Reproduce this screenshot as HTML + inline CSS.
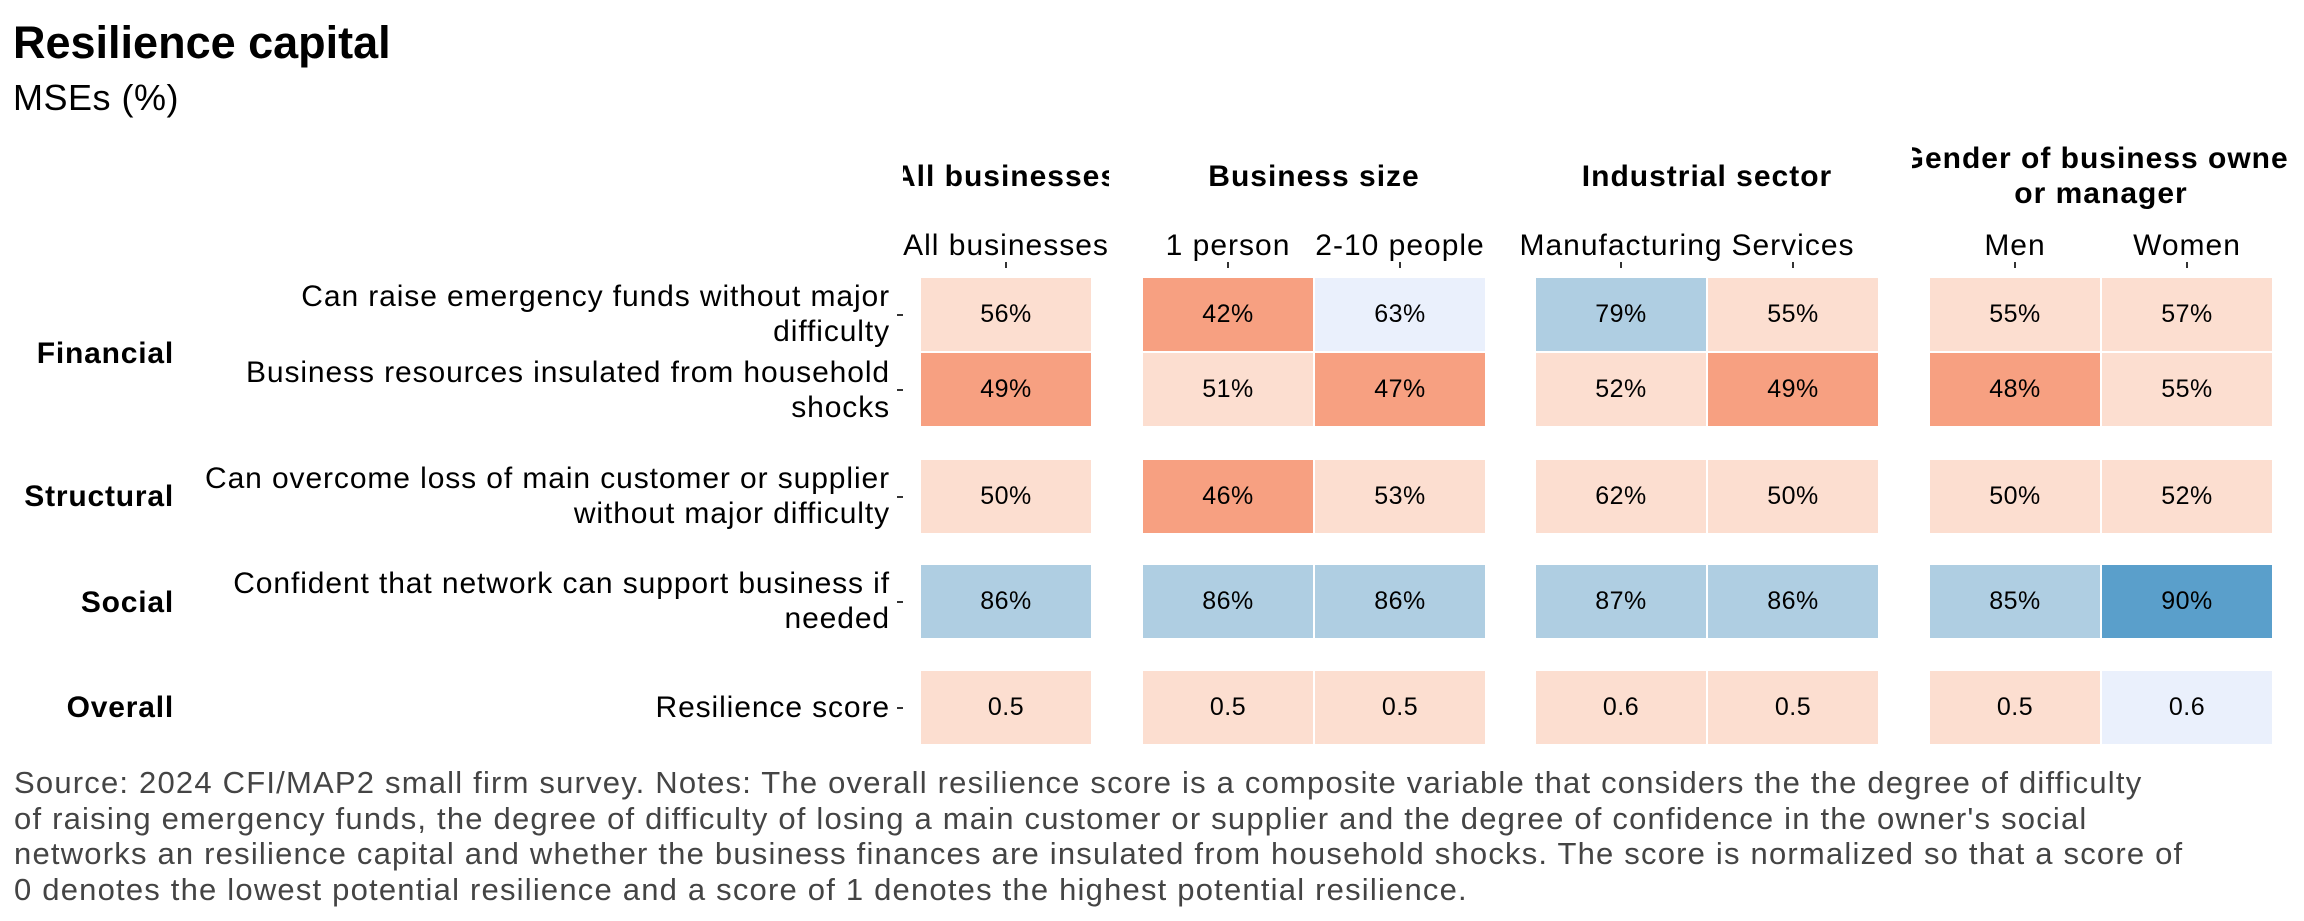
<!DOCTYPE html>
<html><head><meta charset="utf-8"><style>
body{margin:0;width:2304px;height:921px;background:#fff;position:relative;overflow:hidden;font-family:"Liberation Sans",Arial,sans-serif;color:#000}
.a{position:absolute;white-space:nowrap}
.c{position:absolute;width:172px;height:75px;box-sizing:border-box;border:1px solid #fff;display:flex;align-items:center;justify-content:center;font-size:25px;letter-spacing:0.5px}
.lo{background:#FCDED0}.hi{background:#F7A081}.lb{background:#EAF0FC}.bl{background:#AFCEE2}.db{background:#5A9FCB}
.st{position:absolute;height:80px;overflow:hidden;font-weight:bold;font-size:30px;letter-spacing:1px;display:flex;align-items:center;justify-content:center;text-align:center;line-height:35px;top:136px}
.st span{white-space:nowrap}
.cl{position:absolute;font-size:30px;letter-spacing:1px;top:229px;width:172px;text-align:center;white-space:nowrap;display:flex;justify-content:center}
.ct{position:absolute;width:2px;height:6px;top:262px;background:#333}
.rl{position:absolute;right:1414px;font-size:30px;letter-spacing:0.9px;text-align:right;line-height:35px;white-space:nowrap}
.rt{position:absolute;left:897px;width:6px;height:2px;background:#333}
.gl{position:absolute;right:2130px;font-size:30px;letter-spacing:0.8px;font-weight:bold;white-space:nowrap}
.cap{position:absolute;left:14px;top:765px;font-size:31px;letter-spacing:1.2px;line-height:35.5px;color:#444;white-space:nowrap}
</style></head><body>
<div class="a" style="left:13px;top:17px;font-size:45px;font-weight:bold">Resilience capital</div>
<div class="a" style="left:13px;top:77px;font-size:36px;letter-spacing:0.5px">MSEs (%)</div>

<div class="st" style="left:903px;width:206px"><span>All businesses</span></div>
<div class="st" style="left:1125px;width:378px"><span>Business size</span></div>
<div class="st" style="left:1518px;width:378px"><span>Industrial sector</span></div>
<div class="st" style="left:1912px;width:378px"><span>Gender of business owner<br>or manager</span></div>

<div class="cl" style="left:920px"><span>All businesses</span></div>
<div class="cl" style="left:1142px"><span>1 person</span></div>
<div class="cl" style="left:1314px"><span>2-10 people</span></div>
<div class="cl" style="left:1535px"><span>Manufacturing</span></div>
<div class="cl" style="left:1707px"><span>Services</span></div>
<div class="cl" style="left:1929px"><span>Men</span></div>
<div class="cl" style="left:2101px"><span>Women</span></div>
<div class="ct" style="left:1005px"></div><div class="ct" style="left:1227px"></div><div class="ct" style="left:1399px"></div>
<div class="ct" style="left:1620px"></div><div class="ct" style="left:1792px"></div><div class="ct" style="left:2014px"></div><div class="ct" style="left:2186px"></div>

<div class="rl" style="top:279px">Can raise emergency funds without major<br>difficulty</div>
<div class="rl" style="top:355px">Business resources insulated from household<br>shocks</div>
<div class="rl" style="top:461px">Can overcome loss of main customer or supplier<br>without major difficulty</div>
<div class="rl" style="top:566px">Confident that network can support business if<br>needed</div>
<div class="rl" style="top:690px">Resilience score</div>
<div class="rt" style="top:314px"></div><div class="rt" style="top:389px"></div><div class="rt" style="top:496px"></div><div class="rt" style="top:601px"></div><div class="rt" style="top:707px"></div>

<div class="gl" style="top:337px">Financial</div>
<div class="gl" style="top:480px">Structural</div>
<div class="gl" style="top:586px">Social</div>
<div class="gl" style="top:691px">Overall</div>

<div class="c lo" style="left:920px;top:277px">56%</div>
<div class="c hi" style="left:1142px;top:277px">42%</div>
<div class="c lb" style="left:1314px;top:277px">63%</div>
<div class="c bl" style="left:1535px;top:277px">79%</div>
<div class="c lo" style="left:1707px;top:277px">55%</div>
<div class="c lo" style="left:1929px;top:277px">55%</div>
<div class="c lo" style="left:2101px;top:277px">57%</div>

<div class="c hi" style="left:920px;top:352px">49%</div>
<div class="c lo" style="left:1142px;top:352px">51%</div>
<div class="c hi" style="left:1314px;top:352px">47%</div>
<div class="c lo" style="left:1535px;top:352px">52%</div>
<div class="c hi" style="left:1707px;top:352px">49%</div>
<div class="c hi" style="left:1929px;top:352px">48%</div>
<div class="c lo" style="left:2101px;top:352px">55%</div>

<div class="c lo" style="left:920px;top:459px">50%</div>
<div class="c hi" style="left:1142px;top:459px">46%</div>
<div class="c lo" style="left:1314px;top:459px">53%</div>
<div class="c lo" style="left:1535px;top:459px">62%</div>
<div class="c lo" style="left:1707px;top:459px">50%</div>
<div class="c lo" style="left:1929px;top:459px">50%</div>
<div class="c lo" style="left:2101px;top:459px">52%</div>

<div class="c bl" style="left:920px;top:564px">86%</div>
<div class="c bl" style="left:1142px;top:564px">86%</div>
<div class="c bl" style="left:1314px;top:564px">86%</div>
<div class="c bl" style="left:1535px;top:564px">87%</div>
<div class="c bl" style="left:1707px;top:564px">86%</div>
<div class="c bl" style="left:1929px;top:564px">85%</div>
<div class="c db" style="left:2101px;top:564px">90%</div>

<div class="c lo" style="left:920px;top:670px">0.5</div>
<div class="c lo" style="left:1142px;top:670px">0.5</div>
<div class="c lo" style="left:1314px;top:670px">0.5</div>
<div class="c lo" style="left:1535px;top:670px">0.6</div>
<div class="c lo" style="left:1707px;top:670px">0.5</div>
<div class="c lo" style="left:1929px;top:670px">0.5</div>
<div class="c lb" style="left:2101px;top:670px">0.6</div>

<div class="cap">Source: 2024 CFI/MAP2 small firm survey. Notes: The overall resilience score is a composite variable that considers the the degree of difficulty<br>of raising emergency funds, the degree of difficulty of losing a main customer or supplier and the degree of confidence in the owner's social<br>networks an resilience capital and whether the business finances are insulated from household shocks. The score is normalized so that a score of<br>0 denotes the lowest potential resilience and a score of 1 denotes the highest potential resilience.</div>
</body></html>
